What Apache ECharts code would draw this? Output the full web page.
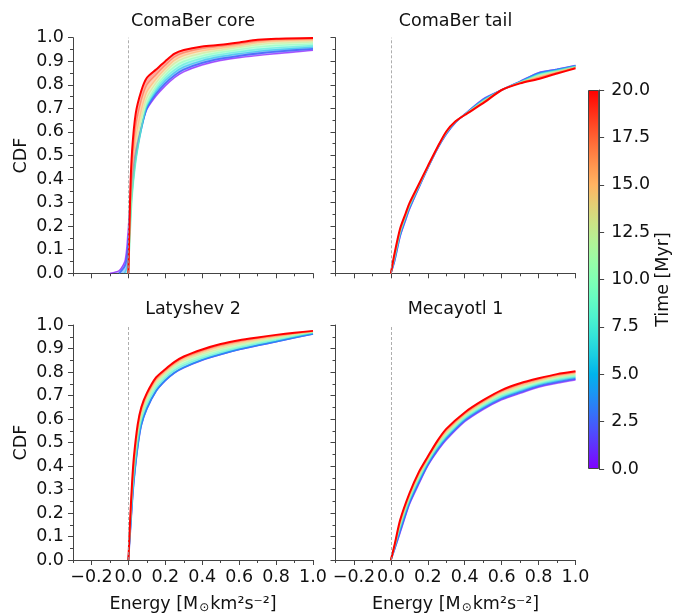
<!DOCTYPE html>
<html><head><meta charset="utf-8">
<script src="https://cdn.jsdelivr.net/npm/echarts@6/dist/echarts.min.js"></script>
<style>html,body{margin:0;padding:0;background:#fff}#c{width:673px;height:615px}</style>
</head><body><div id="c"></div><script>
// ---------------- data ----------------
const times = [0, 2.5, 5, 7.5, 10, 12.5, 15, 17.5, 20];
const panelTitles = ['ComaBer core', 'ComaBer tail', 'Latyshev 2', 'Mecayotl 1'];

const coreX = [-0.1, -0.05, -0.02, -0.01, 0, 0.01, 0.02, 0.04, 0.07, 0.1, 0.15, 0.2, 0.25, 0.3, 0.4, 0.5, 0.6, 0.7, 0.8, 1.0];
const coreY = [
  [0, 0.012, 0.05, 0.10, 0.20, 0.31, 0.40, 0.52, 0.62, 0.695, 0.752, 0.795, 0.830, 0.855, 0.884, 0.903, 0.915, 0.924, 0.932, 0.946],
  [null, 0, 0.03, 0.06, 0.14, 0.27, 0.37, 0.50, 0.615, 0.70, 0.762, 0.806, 0.840, 0.865, 0.893, 0.911, 0.923, 0.933, 0.941, 0.953],
  [null, null, 0, 0.02, 0.07, 0.22, 0.34, 0.48, 0.61, 0.705, 0.772, 0.818, 0.852, 0.876, 0.903, 0.920, 0.932, 0.942, 0.949, 0.960],
  [null, null, null, null, 0, 0.17, 0.32, 0.47, 0.61, 0.712, 0.782, 0.830, 0.864, 0.888, 0.913, 0.929, 0.941, 0.951, 0.958, 0.967],
  [null, null, null, null, 0, 0.18, 0.33, 0.48, 0.62, 0.722, 0.793, 0.842, 0.877, 0.900, 0.923, 0.938, 0.950, 0.961, 0.968, 0.974],
  [null, null, null, null, 0, 0.21, 0.37, 0.52, 0.655, 0.745, 0.808, 0.855, 0.891, 0.912, 0.934, 0.947, 0.959, 0.970, 0.977, 0.982],
  [null, null, null, null, 0, 0.24, 0.41, 0.57, 0.69, 0.77, 0.824, 0.868, 0.904, 0.924, 0.944, 0.955, 0.966, 0.978, 0.985, 0.989],
  [null, null, null, null, 0, 0.29, 0.46, 0.625, 0.735, 0.80, 0.843, 0.883, 0.918, 0.936, 0.954, 0.963, 0.973, 0.985, 0.991, 0.994],
  [null, null, null, null, 0, 0.34, 0.52, 0.68, 0.775, 0.83, 0.865, 0.90, 0.932, 0.948, 0.963, 0.970, 0.980, 0.991, 0.996, 0.999]
];

const tailX = [0, 0.02, 0.05, 0.08, 0.1, 0.15, 0.2, 0.25, 0.3, 0.35, 0.4, 0.5, 0.6, 0.7, 0.8, 0.9, 1.0];
const tailY = [
  [0, 0.050, 0.155, 0.225, 0.270, 0.360, 0.445, 0.525, 0.590, 0.640, 0.675, 0.740, 0.778, 0.815, 0.852, 0.866, 0.882],
  [0, 0.054, 0.160, 0.230, 0.274, 0.362, 0.447, 0.526, 0.592, 0.641, 0.675, 0.738, 0.778, 0.814, 0.850, 0.865, 0.881],
  [0, 0.058, 0.164, 0.234, 0.278, 0.364, 0.448, 0.527, 0.594, 0.642, 0.674, 0.736, 0.778, 0.813, 0.848, 0.864, 0.880],
  [0, 0.062, 0.168, 0.238, 0.281, 0.366, 0.449, 0.528, 0.595, 0.643, 0.674, 0.734, 0.778, 0.812, 0.845, 0.862, 0.879],
  [0, 0.066, 0.172, 0.241, 0.284, 0.368, 0.450, 0.529, 0.597, 0.643, 0.674, 0.732, 0.778, 0.811, 0.842, 0.860, 0.877],
  [0, 0.070, 0.176, 0.244, 0.287, 0.370, 0.451, 0.530, 0.598, 0.644, 0.673, 0.730, 0.778, 0.810, 0.838, 0.858, 0.876],
  [0, 0.074, 0.180, 0.247, 0.290, 0.372, 0.452, 0.530, 0.599, 0.644, 0.673, 0.728, 0.778, 0.809, 0.834, 0.855, 0.874],
  [0, 0.080, 0.185, 0.251, 0.293, 0.374, 0.453, 0.531, 0.600, 0.645, 0.672, 0.725, 0.778, 0.808, 0.830, 0.852, 0.872],
  [0, 0.085, 0.190, 0.255, 0.297, 0.376, 0.455, 0.532, 0.602, 0.645, 0.672, 0.722, 0.778, 0.806, 0.825, 0.848, 0.870]
];

const latX = [0, 0.01, 0.02, 0.03, 0.05, 0.07, 0.1, 0.15, 0.2, 0.25, 0.3, 0.4, 0.5, 0.6, 0.7, 0.8, 0.9, 1.0];
const latY = [
  [0, 0.118, 0.238, 0.338, 0.478, 0.573, 0.643, 0.718, 0.763, 0.796, 0.818, 0.850, 0.874, 0.895, 0.912, 0.928, 0.945, 0.961],
  [0, 0.119, 0.239, 0.339, 0.479, 0.574, 0.644, 0.719, 0.764, 0.797, 0.819, 0.851, 0.875, 0.896, 0.913, 0.929, 0.946, 0.962],
  [0, 0.120, 0.240, 0.340, 0.480, 0.575, 0.645, 0.720, 0.765, 0.798, 0.820, 0.852, 0.876, 0.897, 0.914, 0.930, 0.947, 0.963],
  [0, 0.130, 0.255, 0.355, 0.495, 0.590, 0.660, 0.732, 0.776, 0.808, 0.829, 0.860, 0.883, 0.903, 0.920, 0.935, 0.951, 0.966],
  [0, 0.140, 0.270, 0.370, 0.510, 0.602, 0.672, 0.743, 0.785, 0.817, 0.838, 0.868, 0.891, 0.909, 0.926, 0.940, 0.955, 0.968],
  [0, 0.150, 0.285, 0.390, 0.528, 0.615, 0.684, 0.753, 0.793, 0.825, 0.847, 0.876, 0.899, 0.917, 0.932, 0.945, 0.959, 0.970],
  [0, 0.160, 0.300, 0.405, 0.545, 0.628, 0.694, 0.762, 0.800, 0.832, 0.855, 0.884, 0.907, 0.924, 0.938, 0.950, 0.962, 0.972],
  [0, 0.170, 0.315, 0.423, 0.560, 0.640, 0.702, 0.770, 0.806, 0.838, 0.861, 0.890, 0.913, 0.930, 0.943, 0.954, 0.965, 0.974],
  [0, 0.180, 0.330, 0.440, 0.575, 0.650, 0.710, 0.777, 0.812, 0.843, 0.866, 0.896, 0.919, 0.935, 0.947, 0.958, 0.967, 0.975]
];

const mecX = [0, 0.02, 0.05, 0.1, 0.15, 0.2, 0.25, 0.3, 0.4, 0.5, 0.6, 0.7, 0.8, 0.9, 1.0];
const mecY = [
  [0, 0.045, 0.115, 0.235, 0.320, 0.400, 0.460, 0.510, 0.588, 0.640, 0.681, 0.709, 0.735, 0.752, 0.766],
  [0, 0.047, 0.122, 0.241, 0.327, 0.405, 0.466, 0.516, 0.593, 0.645, 0.686, 0.714, 0.740, 0.757, 0.771],
  [0, 0.050, 0.129, 0.247, 0.333, 0.410, 0.472, 0.521, 0.598, 0.650, 0.691, 0.719, 0.745, 0.762, 0.776],
  [0, 0.052, 0.136, 0.253, 0.340, 0.415, 0.478, 0.527, 0.603, 0.655, 0.697, 0.724, 0.749, 0.767, 0.780],
  [0, 0.055, 0.143, 0.259, 0.346, 0.420, 0.483, 0.533, 0.608, 0.660, 0.702, 0.730, 0.754, 0.772, 0.785],
  [0, 0.057, 0.149, 0.265, 0.353, 0.425, 0.488, 0.539, 0.613, 0.665, 0.707, 0.736, 0.759, 0.777, 0.789],
  [0, 0.060, 0.156, 0.271, 0.359, 0.430, 0.494, 0.545, 0.618, 0.670, 0.713, 0.741, 0.764, 0.782, 0.794],
  [0, 0.062, 0.163, 0.277, 0.366, 0.435, 0.500, 0.552, 0.623, 0.675, 0.718, 0.747, 0.769, 0.787, 0.799],
  [0, 0.065, 0.170, 0.283, 0.372, 0.440, 0.505, 0.558, 0.628, 0.680, 0.723, 0.752, 0.773, 0.791, 0.803]
];

const xTickValues = [-0.2, 0, 0.2, 0.4, 0.6, 0.8, 1.0];
const xMinorTickValues = [-0.3, -0.1, 0.1, 0.3, 0.5, 0.7, 0.9];
const timeMin = 0, timeMax = 20, timeStep = 2.5;

// ---------------- helpers ----------------
const FONT = 'DejaVu Sans';
const FS = 17.5;
const AX = '#444';
const TXT = '#111';
const SMOOTH = 0.25;
function rainbowRGB(f) {
  const r = Math.min(1, Math.abs(2 * f - 0.5));
  const g = Math.sin(Math.PI * f);
  const b = Math.cos(Math.PI * f / 2);
  return [Math.round(r * 255), Math.round(g * 255), Math.round(b * 255)];
}
function rainbow(f, a) {
  const c = rainbowRGB(f);
  return a === undefined ? 'rgb(' + c.join(',') + ')' : 'rgba(' + c.join(',') + ',' + a + ')';
}
function fmt(v) {
  if (Math.abs(v) < 1e-9) v = 0;
  return v.toFixed(1).replace('-', '\u2212');
}

const grids = [
  {left: 73, top: 37.7, width: 240, height: 235.6},
  {left: 335.5, top: 37.7, width: 240, height: 235.6},
  {left: 73, top: 325, width: 240, height: 235},
  {left: 335.5, top: 325, width: 240, height: 235},
  {left: 588, top: 90, width: 12.7, height: 379}
];

const panels = [[coreX, coreY], [tailX, tailY], [latX, latY], [mecX, mecY]];
const xAxes = [], yAxes = [], series = [];

function curvePoints(xs, ys) {
  const pts = [];
  xs.forEach((x, i) => { if (ys[i] !== null) pts.push([x, ys[i]]); });
  return pts;
}

for (let p = 0; p < 4; p++) {
  const bottomRow = p >= 2, leftCol = p % 2 === 0;
  xAxes.push({
    type: 'value', gridIndex: p, min: -0.3, max: 1.0, position: 'bottom',
    splitLine: {show: false},
    axisLine: {onZero: false, lineStyle: {color: AX, width: 1}},
    axisTick: {customValues: xTickValues, length: 5, lineStyle: {color: AX, width: 1}},
    axisLabel: {show: bottomRow, customValues: xTickValues, formatter: fmt, margin: 8,
      color: TXT, fontFamily: FONT, fontSize: FS},
    name: bottomRow ? 'Energy [M{o|\u2299}km\u00b2s\u207b\u00b2]' : '',
    nameLocation: 'middle', nameGap: 34,
    nameTextStyle: {color: TXT, fontFamily: FONT, fontSize: FS,
      rich: {o: {fontFamily: FONT, fontSize: 12, color: TXT, verticalAlign: 'bottom', padding: [8, 1, 0, 1]}}}
  });
  xAxes.push({
    type: 'value', gridIndex: p, min: -0.3, max: 1.0, position: 'bottom',
    splitLine: {show: false},
    axisLine: {show: false, onZero: false},
    axisTick: {customValues: xMinorTickValues, length: 3, lineStyle: {color: AX, width: 1}},
    axisLabel: {show: false}
  });
  yAxes.push({
    type: 'value', gridIndex: p, min: 0, max: 1, interval: 0.1, position: 'left',
    splitLine: {show: false},
    axisLine: {onZero: false, lineStyle: {color: AX, width: 1}},
    axisTick: {length: 5, lineStyle: {color: AX, width: 1}},
    minorTick: {show: true, splitNumber: 2, length: 3, lineStyle: {color: AX, width: 1}},
    axisLabel: {show: leftCol, formatter: fmt, margin: 9, color: TXT, fontFamily: FONT, fontSize: FS},
    name: leftCol ? 'CDF' : '', nameLocation: 'middle', nameRotate: 90, nameGap: 43,
    nameTextStyle: {color: TXT, fontFamily: FONT, fontSize: FS}
  });
  const [xs, ys] = panels[p];
  const curves = ys.map(row => curvePoints(xs, row));

  // pale fill between consecutive time curves
  series.push({
    type: 'custom', xAxisIndex: 2 * p, yAxisIndex: p, silent: true, z: 2, clip: true,
    data: times.slice(0, -1).map((t, k) => [k]),
    renderItem: function (params, api) {
      const k = api.value(0);
      const lo = curves[k].map(pt => api.coord(pt));
      const hi = curves[k + 1].map(pt => api.coord(pt)).reverse();
      const f = (times[k] + times[k + 1]) / 2 / timeMax;
      return {
        type: 'group',
        children: [{
          type: 'polygon', shape: {points: lo.concat(hi)},
          style: {fill: rainbow(f, 0.42), stroke: null}
        }]
      };
    },
    markLine: {
      silent: true, symbol: ['none', 'none'], label: {show: false},
      lineStyle: {type: [3, 2], color: '#999', width: 0.8},
      data: [{xAxis: 0}]
    }
  });

  for (let k = 0; k < times.length; k++) {
    let width = 1.4, op = 0.5;
    if (k === times.length - 1) { width = 2; op = 1; }
    if (k === 0) { width = 1.4; op = 0.6; }
    if (k === 1) { width = 1.8; op = 0.85; }
    series.push({
      type: 'line', xAxisIndex: 2 * p, yAxisIndex: p, data: curves[k],
      showSymbol: false, symbol: 'none', smooth: SMOOTH, silent: true,
      lineStyle: {color: rainbow(times[k] / timeMax), width: width, opacity: op},
      z: 3
    });
  }
}

// colorbar
xAxes.push({type: 'category', gridIndex: 4, data: ['t'], show: false, boundaryGap: true});
yAxes.push({
  type: 'value', gridIndex: 4, min: timeMin, max: timeMax, interval: timeStep, position: 'right',
  splitLine: {show: false},
  axisLine: {show: true, onZero: false, lineStyle: {color: AX, width: 1}},
  axisTick: {show: true, length: 5, lineStyle: {color: AX, width: 1}},
  axisLabel: {formatter: fmt, margin: 12, color: TXT, fontFamily: FONT, fontSize: FS},
  name: 'Time [Myr]', nameLocation: 'middle', nameRotate: 90, nameGap: 54,
  nameTextStyle: {color: TXT, fontFamily: FONT, fontSize: FS}
});
const stops = [];
for (let i = 0; i <= 20; i++) stops.push({offset: i / 20, color: rainbow(1 - i / 20)});
series.push({
  type: 'bar', xAxisIndex: 8, yAxisIndex: 4, data: [timeMax], barWidth: '100%', silent: true,
  itemStyle: {color: {type: 'linear', x: 0, y: 0, x2: 0, y2: 1, colorStops: stops}, borderColor: AX, borderWidth: 1}
});

const titleCenters = [[193, 21], [455.5, 21], [193, 309], [455.5, 309]];
const graphic = panelTitles.map((t, i) => ({
  type: 'text', x: titleCenters[i][0], y: titleCenters[i][1],
  style: {text: t, align: 'center', verticalAlign: 'middle', fill: TXT, font: FS + 'px "' + FONT + '"'}
}));

const chart = echarts.init(document.getElementById('c'), null, {renderer: 'canvas'});
chart.setOption({
  animation: false,
  backgroundColor: '#fff',
  grid: grids,
  xAxis: xAxes,
  yAxis: yAxes,
  series: series,
  graphic: graphic
});
</script></body></html>
